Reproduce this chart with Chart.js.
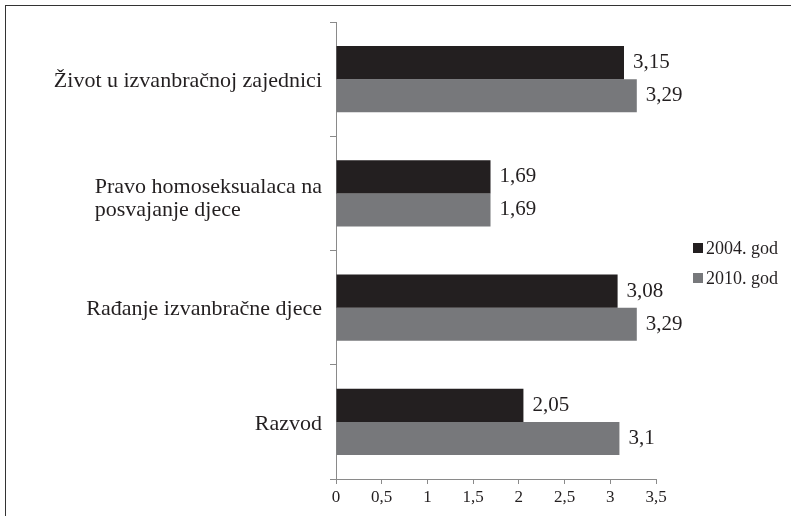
<!DOCTYPE html>
<html>
<head>
<meta charset="utf-8">
<script src="https://cdn.jsdelivr.net/npm/chart.js@4/dist/chart.umd.min.js"></script>
<style>
  html, body { margin: 0; padding: 0; background: #fff; overflow: hidden; }
  #okvir { position: absolute; left: 5px; top: 5px; width: 800px; height: 530px; border: 1.5px solid #333; }
  #wrap { position: absolute; left: 0; top: 0; width: 791px; height: 516px; }
</style>
</head>
<body>
<div id="okvir"></div>
<div id="wrap"><canvas id="grafikon"></canvas></div>
<script>
const kategorije = [
  ["Život u izvanbračnoj zajednici"],
  ["Pravo homoseksualaca na", "posvajanje djece"],
  ["Rađanje izvanbračne djece"],
  ["Razvod"]
];
const god2004 = [3.15, 1.69, 3.08, 2.05];
const god2010 = [3.29, 1.69, 3.29, 3.1];
const oznakeX = [0, 0.5, 1, 1.5, 2, 2.5, 3, 3.5];

const serif = "'Liberation Serif', 'DejaVu Serif', serif";
const zarez = v => String(v).replace(".", ",");

// vrijednosti na kraju stupaca
const vrijednosti = {
  id: "vrijednosti",
  afterDatasetsDraw(chart) {
    const ctx = chart.ctx;
    ctx.save();
    ctx.font = "21px " + serif;
    ctx.fillStyle = "#231f20";
    ctx.textBaseline = "middle";
    chart.data.datasets.forEach((ds, i) => {
      chart.getDatasetMeta(i).data.forEach((bar, j) => {
        ctx.fillText(zarez(ds.data[j]), bar.x + 9, bar.y);
      });
    });
    ctx.restore();
  }
};

// nazivi kategorija, poravnani lijevo u bloku
const nazivi = {
  id: "nazivi",
  afterDraw(chart) {
    const ctx = chart.ctx;
    const y = chart.scales.y;
    ctx.save();
    ctx.font = "22px " + serif;
    ctx.fillStyle = "#231f20";
    ctx.textBaseline = "middle";
    kategorije.forEach((linije, i) => {
      const sirina = Math.max(...linije.map(l => ctx.measureText(l).width));
      const x0 = 322 - sirina;
      const cy = y.getPixelForValue(i) + 2 + (linije.length - 1) * 3;
      const vis = 23;
      linije.forEach((l, k) => {
        ctx.fillText(l, x0, cy - (linije.length - 1) * vis / 2 + k * vis);
      });
    });
    ctx.restore();
  }
};

// legenda desno
const legenda = {
  id: "legenda",
  afterDraw(chart) {
    const ctx = chart.ctx;
    ctx.save();
    ctx.font = "18px " + serif;
    ctx.textBaseline = "middle";
    chart.data.datasets.forEach((ds, i) => {
      const cy = 248 + i * 30;
      ctx.fillStyle = ds.backgroundColor;
      ctx.fillRect(693, cy - 5, 10, 10);
      ctx.fillStyle = "#231f20";
      ctx.fillText(ds.label, 706, cy + 1);
    });
    ctx.restore();
  }
};

new Chart(document.getElementById("grafikon"), {
  type: "bar",
  data: {
    labels: kategorije,
    datasets: [
      { label: "2004. god", data: god2004, backgroundColor: "#231f20" },
      { label: "2010. god", data: god2010, backgroundColor: "#77787b" }
    ]
  },
  options: {
    indexAxis: "y",
    responsive: true,
    maintainAspectRatio: false,
    animation: false,
    categoryPercentage: 0.58,
    barPercentage: 1,
    layout: { padding: { top: 22, left: 0, right: 135, bottom: 0 } },
    scales: {
      x: {
        min: 0,
        max: 3.5,
        afterBuildTicks: s => { s.ticks = oznakeX.map(v => ({ value: v })); },
        afterFit: s => { s.height = 37; },
        border: { color: "#8a8a8a", width: 1 },
        grid: { display: true, drawOnChartArea: false, drawTicks: true, tickLength: 5, color: "#8a8a8a" },
        ticks: {
          color: "#231f20",
          font: { family: serif, size: 17 },
          padding: 3,
          callback: v => zarez(v)
        }
      },
      y: {
        afterFit: s => { s.width = 336; },
        border: { color: "#8a8a8a", width: 1 },
        grid: { display: true, offset: true, drawOnChartArea: false, drawTicks: true, tickLength: 6, color: "#8a8a8a" },
        ticks: { display: false }
      }
    },
    plugins: {
      legend: { display: false },
      tooltip: { enabled: false }
    }
  },
  plugins: [vrijednosti, nazivi, legenda]
});
</script>
</body>
</html>
